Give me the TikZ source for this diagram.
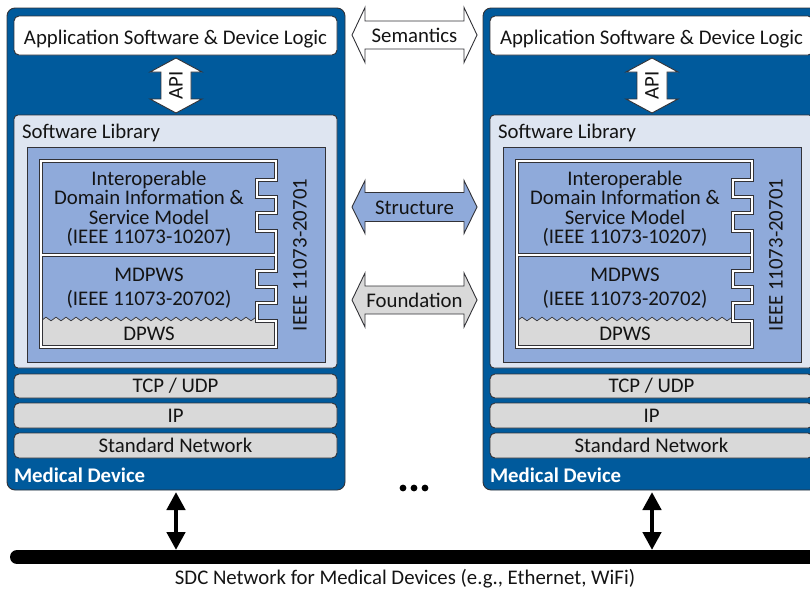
\documentclass[tikz,border=0pt]{standalone}
\usepackage{fontspec}
\setmainfont{Carlito}
\usetikzlibrary{arrows.meta}
\definecolor{devblue}{RGB}{0,90,156}
\definecolor{libblue}{RGB}{222,229,241}
\definecolor{midblue}{RGB}{143,170,218}
\definecolor{lgrey}{RGB}{217,217,217}
\definecolor{edge}{RGB}{50,50,55}
\definecolor{ink}{RGB}{20,20,20}
\tikzset{
  arrline/.style={draw=edge, line width=0.9pt, line join=miter},
  box/.style={draw=edge, line width=0.9pt, anchor=north west, inner sep=0pt, outer sep=0pt, text=ink},
  txt/.style={inner sep=0pt, outer sep=0pt, text=ink},
  netarr/.style={line width=4.5pt, {Triangle[width=18pt,length=18pt]}-{Triangle[width=18pt,length=18pt]}},
}
\newcommand{\hdarr}[6]{%
  \draw[arrline, fill=#6] (#1,#3) -- (#1+13,#3-#4) -- (#1+13,#3-#5) -- (#2-13,#3-#5)
    -- (#2-13,#3-#4) -- (#2,#3) -- (#2-13,#3+#4) -- (#2-13,#3+#5) -- (#1+13,#3+#5)
    -- (#1+13,#3+#4) -- cycle;}
\newcommand{\vdarr}[5]{%
  \draw[arrline, fill=white] (#1,#2) -- (#1+#4,#2+14) -- (#1+#5,#2+14) -- (#1+#5,#3-14)
    -- (#1+#4,#3-14) -- (#1,#3) -- (#1-#4,#3-14) -- (#1-#5,#3-14) -- (#1-#5,#2+14)
    -- (#1-#4,#2+14) -- cycle;}
\newcommand{\drawdevice}{%
  \node[box, fill=devblue, rounded corners=8pt, minimum width=338pt, minimum height=482pt] (dev) at (7,8) {};
  \node[box, fill=white, rounded corners=5pt, minimum width=323pt, minimum height=39pt, text height=18pt, text depth=0pt] (app) at (14,16) {Application Software \& Device Logic};
  \vdarr{176}{58}{113}{26}{15}
  \node[txt, rotate=90] (api) at (176,85.5) {API};
  \node[box, fill=libblue, rounded corners=4pt, minimum width=323pt, minimum height=253pt] (lib) at (14,115) {};
  \node[txt, anchor=west] (libt) at (22,133) {Software Library};
  \node[box, fill=midblue, minimum width=298pt, minimum height=215pt] (sdc) at (27,147) {};
  \fill[lgrey] (41,347) -- (41,319) -- plot[domain=41:256, samples=44] (\x,{319+1.8*cos(36*(\x-41))}) -- (257,321) -- (276,321) -- (276,347) -- cycle;
  \draw[edge, line width=0.7pt] plot[domain=41:256, samples=44] (\x,{319+1.8*cos(36*(\x-41))});
  \foreach \lw/\lc in {3.8pt/edge, 1.6pt/white}
    \draw[line width=\lw, draw=\lc, line join=miter]
      (41,161) -- (276,161) -- (276,180) -- (257,180) -- (257,197) -- (276,197) -- (276,213)
      -- (257,213) -- (257,231) -- (276,231) -- (276,271) -- (257,271) -- (257,287) -- (276,287)
      -- (276,303) -- (257,303) -- (257,321) -- (276,321) -- (276,347) -- (41,347) -- cycle
      (41,255) -- (276,255);
  \node[txt, align=center] (idim) at (149,208.5) {Interoperable\\Domain Information \&\\Service Model\\(IEEE 11073-10207)};
  \node[txt, align=center] (mdpws) at (149,288) {MDPWS\\[5pt](IEEE 11073-20702)};
  \node[txt] (dpws) at (149,333.5) {DPWS};
  \node[txt, rotate=90] (ieee) at (300,255) {IEEE 11073-20701};
  \node[box, fill=lgrey, rounded corners=5pt, minimum width=323pt, minimum height=24pt] (tcp) at (14,374) {TCP / UDP};
  \node[box, fill=lgrey, rounded corners=5pt, minimum width=323pt, minimum height=25pt] (ip) at (14,403) {IP};
  \node[box, fill=lgrey, rounded corners=5pt, minimum width=323pt, minimum height=25pt] (net) at (14,433) {Standard Network};
  \node[txt, anchor=west, text=white, font=\fontsize{20.8}{19.5}\selectfont\bfseries] (md) at (14,475) {Medical Device};
}
\begin{document}
\begin{tikzpicture}[x=1pt, y=-1pt, font=\fontsize{20.8}{19.5}\selectfont]
  \useasboundingbox (0,0) rectangle (810,592);
  \clip (0,0) rectangle (810,592);
  \begin{scope}[name prefix=L-]
    \drawdevice
  \end{scope}
  \begin{scope}[xshift=476pt, name prefix=R-]
    \drawdevice
  \end{scope}
  \hdarr{352}{477}{35}{27.5}{14}{white}
  \node[txt] (sem) at (414.5,35.5) {Semantics};
  \hdarr{352}{477}{207}{26.5}{14.5}{midblue}
  \node[txt] (str) at (414.5,207.5) {Structure};
  \hdarr{352}{477}{300}{27}{14}{lgrey}
  \node[txt] (fnd) at (414.5,300.5) {Foundation};
  \foreach \k in {0,1,2} \fill[black] (403+11*\k,488) circle (3.4pt);
  \coordinate (barL) at (17,557);
  \coordinate (barR) at (840,557);
  \draw[line width=14pt, line cap=round] (barL) -- (barR);
  \node[txt] (sdcnet) at (405,579) {SDC Network for Medical Devices (e.g., Ethernet, WiFi)};
  \draw[netarr, shorten >=7pt] ([yshift=-2pt]L-dev.south) -- (L-dev.south |- barL);
  \draw[netarr, shorten >=7pt] ([yshift=-2pt]R-dev.south) -- (R-dev.south |- barL);
\end{tikzpicture}
\end{document}
